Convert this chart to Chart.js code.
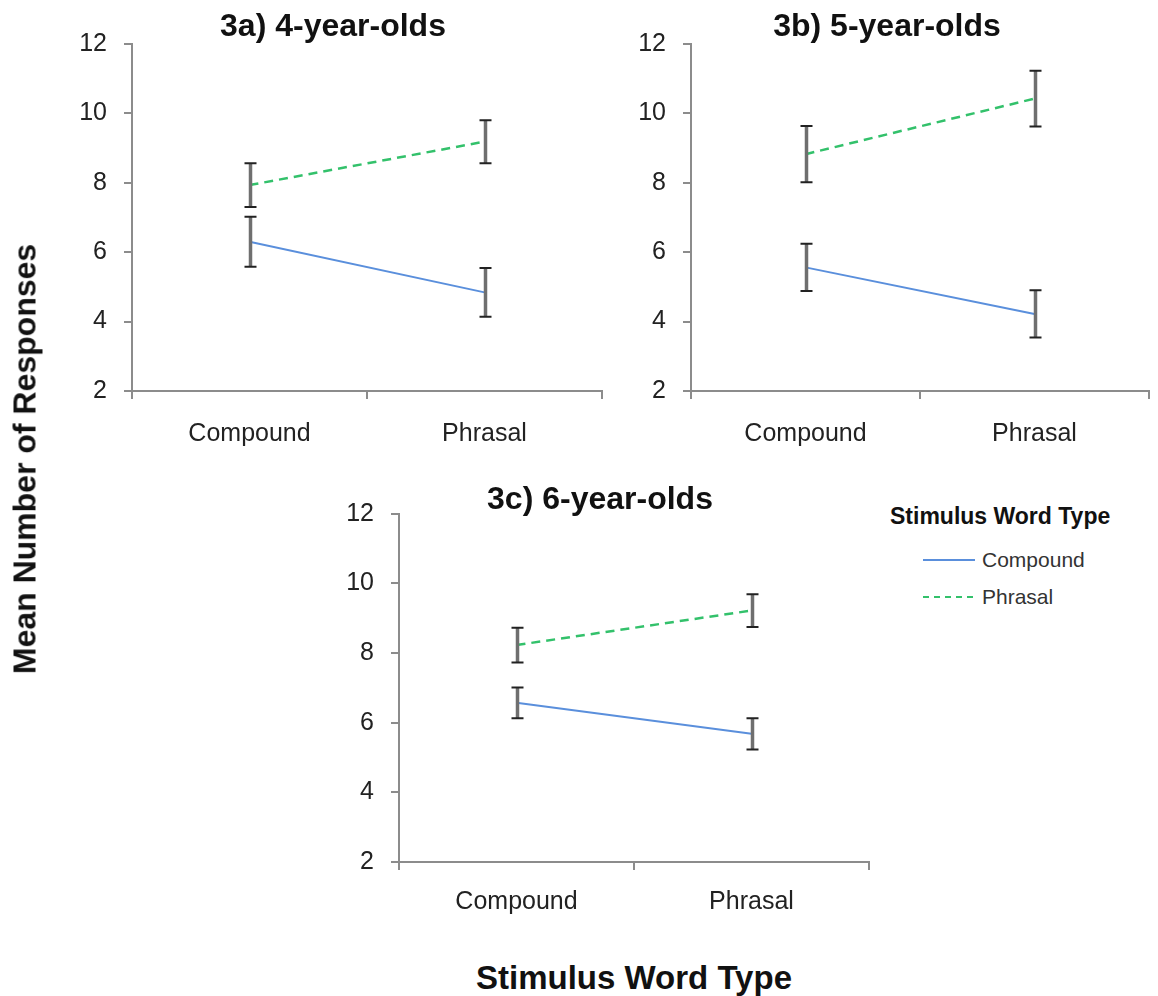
<!DOCTYPE html>
<html>
<head>
<meta charset="utf-8">
<script src="https://cdn.jsdelivr.net/npm/chart.js@4.4.1/dist/chart.umd.min.js"></script>
<style>
  body { margin: 0; background: #fff; font-family: "Liberation Sans", Arial, sans-serif; }
  #wrap { position: relative; width: 1158px; height: 996px; overflow: hidden; }
  canvas { position: absolute; }
  .axis-title { position: absolute; font-weight: bold; font-size: 32px; color: #111; white-space: nowrap; }
  #ytitle { left: 25px; top: 459px; transform: translate(-50%, -50%) rotate(-90deg); }
  #xtitle { left: 634px; top: 978px; font-size: 33px; transform: translate(-50%, -50%); }
  #legend { position: absolute; left: 890px; top: 503px; color: #333; }
  #legend .ltitle { font-weight: bold; font-size: 23px; color: #111; white-space: nowrap; }
  #legend .item { position: absolute; left: 33px; height: 24px; display: flex; align-items: center; font-size: 21px; white-space: nowrap; }
  #legend svg { margin-right: 7px; }
</style>
</head>
<body>
<div id="wrap">
  <canvas id="chartA" width="586" height="460" style="left:40px;top:0px"></canvas>
  <canvas id="chartB" width="558" height="460" style="left:600px;top:0px"></canvas>
  <canvas id="chartC" width="570" height="470" style="left:310px;top:470px"></canvas>
  <div class="axis-title" id="ytitle">Mean Number of Responses</div>
  <div class="axis-title" id="xtitle">Stimulus Word Type</div>
  <div id="legend">
    <div class="ltitle">Stimulus Word Type</div>
    <div class="item" style="top:45px"><svg width="52" height="6"><line x1="0" y1="3" x2="52" y2="3" stroke="#5a8fdc" stroke-width="2"/></svg>Compound</div>
    <div class="item" style="top:82px"><svg width="52" height="6"><line x1="0" y1="3" x2="52" y2="3" stroke="#33c16b" stroke-width="2" stroke-dasharray="6,5"/></svg>Phrasal</div>
  </div>
</div>
<script>
// categories and tick range
const categories = ['Compound', 'Phrasal'];
const yTicks = [2, 4, 6, 8, 10, 12];
const seriesNames = ['Compound', 'Phrasal'];

// 3a) 4-year-olds
const compound4 = [6.30, 4.84];
const compound4Err = [0.72, 0.70];
const phrasal4 = [7.93, 9.18];
const phrasal4Err = [0.63, 0.62];

// 3b) 5-year-olds
const compound5 = [5.56, 4.22];
const compound5Err = [0.68, 0.68];
const phrasal5 = [8.82, 10.42];
const phrasal5Err = [0.81, 0.80];

// 3c) 6-year-olds
const compound6 = [6.57, 5.68];
const compound6Err = [0.44, 0.45];
const phrasal6 = [8.23, 9.22];
const phrasal6Err = [0.50, 0.47];

const AXIS_COLOR = '#8c8c8c';
const FONT = '"Liberation Sans", Arial, sans-serif';

// draws the +/- error bars on top of the lines
const errorBars = {
    id: 'errorBars',
    afterDatasetsDraw(chart) {
        const ctx = chart.ctx;
        const yScale = chart.scales.y;
        chart.data.datasets.forEach((ds, i) => {
            const meta = chart.getDatasetMeta(i);
            meta.data.forEach((pt, j) => {
                const v = ds.data[j];
                const e = ds.errors[j];
                const top = yScale.getPixelForValue(v + e);
                const bot = yScale.getPixelForValue(v - e);
                const x = pt.x + 1;
                ctx.save();
                ctx.strokeStyle = '#6f6f6f';
                ctx.lineWidth = 3.5;
                ctx.beginPath();
                ctx.moveTo(x, top);
                ctx.lineTo(x, bot);
                ctx.stroke();
                ctx.strokeStyle = '#222';
                ctx.lineWidth = 2;
                ctx.beginPath();
                ctx.moveTo(x - 6, top);
                ctx.lineTo(x + 6, top);
                ctx.moveTo(x - 6, bot);
                ctx.lineTo(x + 6, bot);
                ctx.stroke();
                ctx.restore();
            });
        });
    }
};

function makeChart(id, title, compound, compoundErr, phrasal, phrasalErr, geo) {
    const ctx = document.getElementById(id).getContext('2d');
    return new Chart(ctx, {
        type: 'line',
        data: {
            labels: categories,
            datasets: [
                {
                    label: seriesNames[0],
                    data: compound,
                    errors: compoundErr,
                    borderColor: '#5a8fdc',
                    borderWidth: 2,
                    pointRadius: 0,
                    tension: 0,
                    fill: false
                },
                {
                    label: seriesNames[1],
                    data: phrasal,
                    errors: phrasalErr,
                    borderColor: '#33c16b',
                    borderWidth: 2.5,
                    borderDash: [9, 6],
                    pointRadius: 0,
                    tension: 0,
                    fill: false
                }
            ]
        },
        options: {
            responsive: false,
            animation: false,
            layout: { padding: geo.padding },
            plugins: {
                legend: { display: false },
                tooltip: { enabled: false },
                title: {
                    display: true,
                    text: title,
                    color: '#111',
                    font: { family: FONT, size: 32, weight: 'bold', lineHeight: 0.75 },
                    padding: { top: 0, bottom: geo.titleGap }
                }
            },
            scales: {
                x: {
                    offset: true,
                    grid: { offset: true, drawOnChartArea: false, color: AXIS_COLOR, lineWidth: 2, tickLength: 8 },
                    border: { color: AXIS_COLOR, width: 2 },
                    ticks: { color: '#222', font: { family: FONT, size: 25 }, padding: geo.xPad },
                    afterFit(scale) { scale.height = geo.xHeight; }
                },
                y: {
                    min: yTicks[0],
                    max: yTicks[yTicks.length - 1],
                    ticks: { stepSize: yTicks[1] - yTicks[0], color: '#222', font: { family: FONT, size: 25 }, padding: 17 },
                    grid: { drawOnChartArea: false, color: AXIS_COLOR, lineWidth: 2, tickLength: 8 },
                    border: { color: AXIS_COLOR, width: 2 },
                    afterFit(scale) { scale.width = geo.yWidth; }
                }
            }
        },
        plugins: [errorBars]
    });
}

makeChart('chartA', '3a) 4-year-olds', compound4, compound4Err, phrasal4, phrasal4Err,
    { padding: { left: 24, right: 24, top: 15, bottom: 0 }, titleGap: 4.75, yWidth: 68, xHeight: 69, xPad: 20 });
makeChart('chartB', '3b) 5-year-olds', compound5, compound5Err, phrasal5, phrasal5Err,
    { padding: { left: 25, right: 9, top: 15, bottom: 0 }, titleGap: 4.75, yWidth: 66, xHeight: 69, xPad: 20 });
makeChart('chartC', '3c) 6-year-olds', compound6, compound6Err, phrasal6, phrasal6Err,
    { padding: { left: 21, right: 11, top: 18, bottom: 0 }, titleGap: 1.75, yWidth: 68, xHeight: 78, xPad: 17 });
</script>
</body>
</html>
